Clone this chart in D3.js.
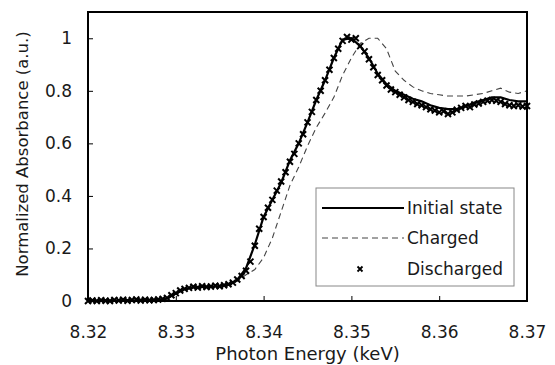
<!DOCTYPE html>
<html>
<head>
<meta charset="utf-8">
<script src="https://cdn.jsdelivr.net/npm/d3@7"></script>
<style>
  body { margin: 0; background: #fff; }
  text { font-family: "DejaVu Sans", "Liberation Sans", Arial, sans-serif; fill: #1a1a1a; }
</style>
</head>
<body>
<div id="chart"></div>
<script>
// energies (keV), 1 eV grid
var energy = [8.320,8.321,8.322,8.323,8.324,8.325,8.326,8.327,8.328,8.329,
  8.330,8.331,8.332,8.333,8.334,8.335,8.336,8.337,8.338,8.339,
  8.340,8.341,8.342,8.343,8.344,8.345,8.346,8.347,8.348,8.349,
  8.350,8.351,8.352,8.353,8.354,8.355,8.356,8.357,8.358,8.359,
  8.360,8.361,8.362,8.363,8.364,8.365,8.366,8.367,8.368,8.369,8.370];

var initialState = [0.000,0.000,0.002,0.000,0.003,0.002,0.004,0.003,0.004,0.010,
  0.028,0.045,0.052,0.055,0.054,0.057,0.062,0.080,0.125,0.215,
  0.320,0.385,0.450,0.535,0.600,0.680,0.765,0.840,0.925,0.995,
  1.000,0.970,0.925,0.865,0.825,0.800,0.785,0.770,0.760,0.745,
  0.735,0.730,0.730,0.740,0.755,0.765,0.775,0.775,0.765,0.760,0.760];

var charged = [0.000,0.001,0.002,0.001,0.003,0.002,0.004,0.004,0.005,0.010,
  0.027,0.044,0.052,0.054,0.055,0.057,0.062,0.075,0.100,0.120,
  0.165,0.240,0.340,0.440,0.510,0.590,0.660,0.715,0.775,0.860,
  0.925,0.980,1.000,1.000,0.960,0.875,0.840,0.815,0.800,0.790,
  0.785,0.780,0.780,0.780,0.785,0.790,0.800,0.810,0.795,0.790,0.800];

// discharged, 0.5 eV grid
var energyFine = [8.3200,8.3205,8.3210,8.3215,8.3220,8.3225,8.3230,8.3235,8.3240,8.3245,
  8.3250,8.3255,8.3260,8.3265,8.3270,8.3275,8.3280,8.3285,8.3290,8.3295,
  8.3300,8.3305,8.3310,8.3315,8.3320,8.3325,8.3330,8.3335,8.3340,8.3345,
  8.3350,8.3355,8.3360,8.3365,8.3370,8.3375,8.3380,8.3385,8.3390,8.3395,
  8.3400,8.3405,8.3410,8.3415,8.3420,8.3425,8.3430,8.3435,8.3440,8.3445,
  8.3450,8.3455,8.3460,8.3465,8.3470,8.3475,8.3480,8.3485,8.3490,8.3495,
  8.3500,8.3505,8.3510,8.3515,8.3520,8.3525,8.3530,8.3535,8.3540,8.3545,
  8.3550,8.3555,8.3560,8.3565,8.3570,8.3575,8.3580,8.3585,8.3590,8.3595,
  8.3600,8.3605,8.3610,8.3615,8.3620,8.3625,8.3630,8.3635,8.3640,8.3645,
  8.3650,8.3655,8.3660,8.3665,8.3670,8.3675,8.3680,8.3685,8.3690,8.3695,8.3700];

var discharged = [0.000,0.002,0.000,0.003,0.001,0.000,0.004,0.002,0.005,0.001,
  0.004,0.006,0.002,0.005,0.003,0.004,0.006,0.008,0.012,0.022,
  0.030,0.040,0.046,0.050,0.054,0.051,0.056,0.053,0.055,0.058,
  0.056,0.060,0.064,0.070,0.082,0.095,0.115,0.150,0.210,0.275,
  0.320,0.355,0.385,0.420,0.455,0.490,0.530,0.560,0.600,0.635,
  0.680,0.720,0.765,0.800,0.840,0.880,0.925,0.960,0.990,1.005,
  0.995,1.000,0.970,0.950,0.920,0.890,0.860,0.840,0.820,0.805,
  0.795,0.785,0.775,0.765,0.758,0.750,0.745,0.738,0.730,0.725,
  0.718,0.722,0.712,0.718,0.728,0.735,0.742,0.738,0.748,0.752,
  0.758,0.762,0.765,0.762,0.758,0.750,0.745,0.742,0.745,0.740,0.742];

var xTicks = [8.32, 8.33, 8.34, 8.35, 8.36, 8.37];
var yTicks = [0, 0.2, 0.4, 0.6, 0.8, 1];
var legendLabels = ["Initial state", "Charged", "Discharged"];

var margin = {top: 12, right: 28, bottom: 64, left: 88},
    W = 555, H = 365,
    w = W - margin.left - margin.right,
    h = H - margin.top - margin.bottom;

var svg = d3.select("#chart").append("svg")
    .attr("width", W)
    .attr("height", H);

var g = svg.append("g")
    .attr("transform", "translate(" + margin.left + "," + margin.top + ")");

var x = d3.scaleLinear().domain([8.32, 8.37]).range([0, w]);
var y = d3.scaleLinear().domain([0, 1.1]).range([h, 0]);

// axes with inside ticks
var xAxis = g.append("g")
    .attr("transform", "translate(0," + h + ")")
    .call(d3.axisBottom(x).tickValues(xTicks).tickFormat(d3.format(".2f"))
      .tickSizeInner(-5).tickSizeOuter(0).tickPadding(25));
var yAxis = g.append("g")
    .call(d3.axisLeft(y).tickValues(yTicks).tickFormat(function(d) { return d; })
      .tickSizeInner(-5).tickSizeOuter(0).tickPadding(16));

[xAxis, yAxis].forEach(function(a) {
  a.select(".domain").remove();
  a.selectAll("line").attr("stroke", "#000");
  a.selectAll("text").style("font-size", "17px").attr("fill", "#1a1a1a");
});

// charged - dashed
var line = d3.line()
    .x(function(d) { return x(d[0]); })
    .y(function(d) { return y(d[1]); });

g.append("path")
  .datum(d3.zip(energy, charged))
  .attr("fill", "none")
  .attr("stroke", "#444")
  .attr("stroke-width", 1.1)
  .attr("stroke-dasharray", "6,4")
  .attr("d", line);

// initial state - solid
g.append("path")
  .datum(d3.zip(energy, initialState))
  .attr("fill", "none")
  .attr("stroke", "#000")
  .attr("stroke-width", 2.2)
  .attr("d", line);

// discharged - x markers
var xMark = "M-3,-3L3,3M-3,3L3,-3";
g.append("g")
  .selectAll("path")
  .data(d3.zip(energyFine, discharged))
  .enter()
  .append("path")
    .attr("transform", function(d) { return "translate(" + x(d[0]) + "," + y(d[1]) + ")"; })
    .attr("d", xMark)
    .attr("stroke", "#000")
    .attr("stroke-width", 2);

// frame
g.append("rect")
  .attr("width", w)
  .attr("height", h)
  .attr("fill", "none")
  .attr("stroke", "#000")
  .attr("stroke-width", 2);

// axis titles
svg.append("text")
  .attr("x", margin.left + w / 2)
  .attr("y", 360)
  .attr("text-anchor", "middle")
  .style("font-size", "18px")
  .text("Photon Energy (keV)");

svg.append("text")
  .attr("transform", "translate(28," + (margin.top + 142) + ") rotate(-90)")
  .attr("text-anchor", "middle")
  .style("font-size", "16.5px")
  .text("Normalized Absorbance (a.u.)");

// legend
var lg = svg.append("g").attr("transform", "translate(316,188)");
lg.append("rect")
  .attr("width", 198)
  .attr("height", 98)
  .attr("fill", "#fff")
  .attr("stroke", "#888")
  .attr("stroke-width", 1);

var rowY = [20, 50, 81];
lg.append("line").attr("x1", 6).attr("x2", 88).attr("y1", rowY[0]).attr("y2", rowY[0])
  .attr("stroke", "#000").attr("stroke-width", 2);
lg.append("line").attr("x1", 6).attr("x2", 88).attr("y1", rowY[1]).attr("y2", rowY[1])
  .attr("stroke", "#444").attr("stroke-width", 1).attr("stroke-dasharray", "6,4");
lg.append("path").attr("transform", "translate(44," + rowY[2] + ")")
  .attr("d", "M-2.5,-2.5L2.5,2.5M-2.5,2.5L2.5,-2.5").attr("stroke", "#000").attr("stroke-width", 1.8);

lg.selectAll("text.lab")
  .data(legendLabels)
  .enter()
  .append("text")
    .attr("class", "lab")
    .attr("x", 91)
    .attr("y", function(d, i) { return rowY[i]; })
    .attr("dy", "0.36em")
    .style("font-size", "17px")
    .text(function(d) { return d; });
</script>
</body>
</html>
